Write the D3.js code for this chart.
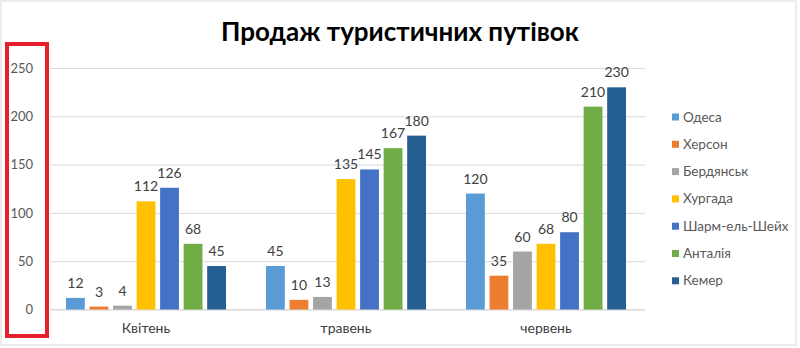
<!DOCTYPE html>
<html>
<head>
<meta charset="utf-8">
<script src="https://cdn.jsdelivr.net/npm/d3@7"></script>
<style>
  html, body { margin: 0; padding: 0; background: #fff; }
  svg { display: block; font-family: Lato, "Open Sans", sans-serif; }
</style>
</head>
<body>
<svg id="chart" width="800" height="348"></svg>
<script>
// Tour voucher sales by month and destination
const title = "Продаж туристичних путівок";
const months = ["Квітень", "травень", "червень"];
const destinations = ["Одеса", "Херсон", "Бердянськ", "Хургада", "Шарм-ель-Шейх", "Анталія", "Кемер"];
const colors = ["#5B9BD5", "#ED7D31", "#A5A5A5", "#FFC000", "#4472C4", "#70AD47", "#255E91"];

const odesa      = [12, 45, 120];
const kherson    = [3, 10, 35];
const berdiansk  = [4, 13, 60];
const hurghada   = [112, 135, 68];
const sharm      = [126, 145, 80];
const antalya    = [68, 167, 210];
const kemer      = [45, 180, 230];
const seriesValues = [odesa, kherson, berdiansk, hurghada, sharm, antalya, kemer];

const yTicks = [0, 50, 100, 150, 200, 250];

const svg = d3.select("#chart");
const plot = { left: 50, right: 645, top: 68, bottom: 309.5 };

// outer chart frame
svg.append("rect")
  .attr("x", 1).attr("y", 1).attr("width", 795).attr("height", 344)
  .attr("fill", "#fff").attr("stroke", "#d9d9d9").attr("stroke-width", 1);

const y = d3.scaleLinear().domain([0, 250]).range([plot.bottom, plot.top]);
const x0 = d3.scaleBand().domain(months).range([46, 646]).padding(0);
const x1 = d3.scaleBand().domain(destinations).range([20, x0.bandwidth() - 20])
  .paddingInner(0.2).paddingOuter(0);
const color = d3.scaleOrdinal().domain(destinations).range(colors);

// horizontal gridlines and value labels
const yAxis = d3.axisLeft(y).tickValues(yTicks).tickSize(-(plot.right - plot.left)).tickPadding(17);
const gy = svg.append("g").attr("transform", `translate(${plot.left},0)`).call(yAxis);
gy.select(".domain").remove();
gy.selectAll(".tick line").attr("stroke", "#d9d9d9").attr("stroke-width", 1);
gy.selectAll(".tick text").attr("fill", "#595959").attr("font-size", 13)
  .attr("font-family", "Lato, sans-serif");

// category axis
const xAxis = d3.axisBottom(x0).tickSize(0).tickPadding(14);
const gx = svg.append("g").attr("transform", `translate(0,${plot.bottom})`).call(xAxis);
gx.select(".domain").attr("d", `M${plot.left},0H${plot.right}`).attr("stroke", "#d9d9d9");
gx.selectAll(".tick text").attr("fill", "#404040").attr("font-size", 14)
  .attr("font-family", "Lato, sans-serif");

// bars
const rows = months.map((m, i) => ({
  month: m,
  items: destinations.map((d, j) => ({ dest: d, value: seriesValues[j][i] }))
}));

const groups = svg.append("g").selectAll("g").data(rows).join("g")
  .attr("transform", d => `translate(${x0(d.month)},0)`);

groups.selectAll("rect").data(d => d.items).join("rect")
  .attr("x", d => x1(d.dest))
  .attr("y", d => y(d.value))
  .attr("width", x1.bandwidth())
  .attr("height", d => plot.bottom - y(d.value))
  .attr("fill", d => color(d.dest));

groups.selectAll("text").data(d => d.items).join("text")
  .attr("x", d => x1(d.dest) + x1.bandwidth() / 2)
  .attr("y", d => y(d.value) - 10)
  .attr("text-anchor", "middle")
  .attr("font-size", 14)
  .attr("fill", "#404040")
  .text(d => d.value);

// title
svg.append("text")
  .attr("x", 400).attr("y", 41)
  .attr("text-anchor", "middle")
  .attr("font-size", 26).attr("font-weight", "bold")
  .attr("fill", "#000")
  .text(title);

// legend
const legend = svg.append("g").attr("transform", "translate(672,117)");
const li = legend.selectAll("g").data(destinations).join("g")
  .attr("transform", (d, i) => `translate(0,${i * 27.3})`);
li.append("rect").attr("x", 0).attr("y", -3.5).attr("width", 7).attr("height", 7)
  .attr("fill", d => color(d));
li.append("text").attr("x", 11).attr("y", 4.5)
  .attr("font-size", 13.5).attr("fill", "#595959")
  .text(d => d);

// highlight box around the value axis
svg.append("rect")
  .attr("x", 7).attr("y", 44).attr("width", 40).attr("height", 292)
  .attr("fill", "none").attr("stroke", "#e3202b").attr("stroke-width", 4);
</script>
</body>
</html>
